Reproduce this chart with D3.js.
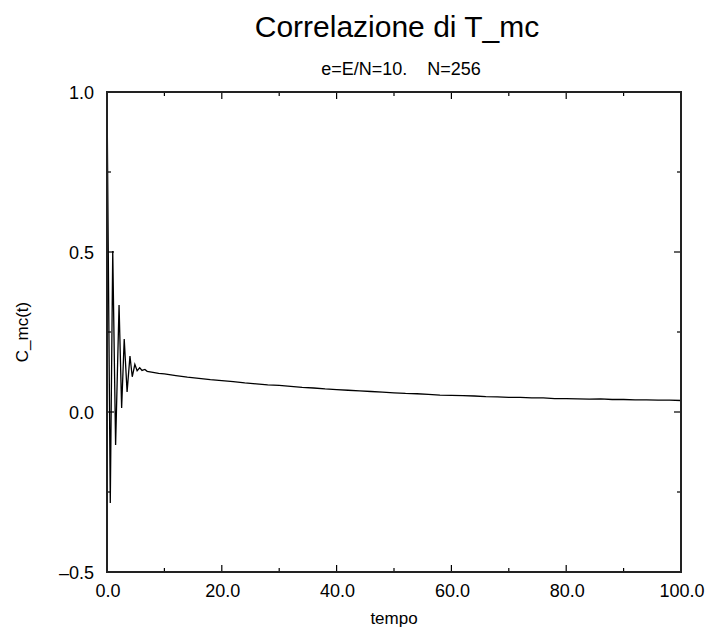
<!DOCTYPE html>
<html>
<head>
<meta charset="utf-8">
<script src="https://cdn.jsdelivr.net/npm/d3@7"></script>
<style>
  body { margin: 0; background: #fff; }
  text { font-family: "Liberation Sans", Arial, Helvetica, sans-serif; fill: #000; }
</style>
</head>
<body>
<div id="chart"></div>
<script>
// time axis (tempo) and correlation values C_mc(t)
const tempo = [0, 0.57, 1.0, 1.5, 2.1, 2.55, 3.0, 3.5, 4.0, 4.4, 4.85, 5.25, 5.7, 6.1, 6.6, 7.0,
  8, 9, 10, 12, 14, 16, 18, 20, 22, 24, 26, 28, 30, 32, 34, 36, 38, 40, 42, 44, 46, 48, 50,
  52, 54, 56, 58, 60, 62, 64, 66, 68, 70, 72, 74, 76, 78, 80, 82, 84, 86, 88, 90, 92, 94, 96, 98, 100];
const cmc = [1.0, -0.284, 0.503, -0.103, 0.334, 0.0125, 0.228, 0.063, 0.175, 0.11, 0.149, 0.129, 0.138, 0.130, 0.133, 0.127,
  0.124, 0.121, 0.119, 0.114, 0.109, 0.105, 0.101, 0.098, 0.095, 0.091, 0.088, 0.085, 0.083, 0.080, 0.077, 0.075, 0.072, 0.070, 0.068, 0.066, 0.064, 0.062, 0.060,
  0.058, 0.057, 0.055, 0.053, 0.052, 0.051, 0.050, 0.048, 0.047, 0.046, 0.046, 0.044, 0.044, 0.042, 0.042, 0.041, 0.040, 0.041, 0.039, 0.039, 0.038, 0.038, 0.037, 0.037, 0.036];

const xMajor = [0, 20, 40, 60, 80, 100];
const xMinor = [10, 30, 50, 70, 90];
const yMajor = [-0.5, 0.0, 0.5, 1.0];
const yMinor = [-0.25, 0.25, 0.75];

const titleText = "Correlazione di T_mc";
const subtitleText = "e=E/N=10.\u00a0\u00a0\u00a0\u00a0N=256";
const xLabel = "tempo";
const yLabel = "C_mc(t)";

const W = 713, H = 636;
const margin = { top: 92, right: 32, bottom: 64, left: 107 };
const width = W - margin.left - margin.right;
const height = H - margin.top - margin.bottom;

const svg = d3.select("#chart").append("svg")
  .attr("width", W)
  .attr("height", H);

const g = svg.append("g")
  .attr("transform", "translate(" + margin.left + "," + margin.top + ")");

const x = d3.scaleLinear().domain([0, 100]).range([0, width]);
const y = d3.scaleLinear().domain([-0.5, 1.0]).range([height, 0]);

const fmt = d => (d < 0 ? "\u2013" + d3.format(".1f")(-d) : d3.format(".1f")(d));

// data line
const line = d3.line()
  .x((d, i) => x(tempo[i]))
  .y(d => y(d));
g.append("path")
  .datum(cmc)
  .attr("d", line)
  .attr("fill", "none")
  .attr("stroke", "#000")
  .attr("stroke-width", 1.3)
  .attr("stroke-linejoin", "miter");

// ticks on all four sides, pointing inward
const tick = (vals, len) => {
  vals.forEach(v => {
    g.append("line").attr("x1", x(v)).attr("x2", x(v)).attr("y1", height).attr("y2", height - len);
    g.append("line").attr("x1", x(v)).attr("x2", x(v)).attr("y1", 0).attr("y2", len);
  });
};
const ytick = (vals, len) => {
  vals.forEach(v => {
    g.append("line").attr("x1", 0).attr("x2", len).attr("y1", y(v)).attr("y2", y(v));
    g.append("line").attr("x1", width).attr("x2", width - len).attr("y1", y(v)).attr("y2", y(v));
  });
};
tick(xMajor, 7); tick(xMinor, 4);
ytick(yMajor, 7); ytick(yMinor, 4);
g.selectAll("line").attr("stroke", "#000").attr("stroke-width", 1.2);

// frame
g.append("rect")
  .attr("x", 0).attr("y", 0)
  .attr("width", width).attr("height", height)
  .attr("fill", "none")
  .attr("stroke", "#222")
  .attr("stroke-width", 2);

// tick labels
g.selectAll(".xl").data(xMajor).enter().append("text")
  .attr("x", d => x(d) + 1)
  .attr("y", height + 25)
  .attr("text-anchor", "middle")
  .style("font-size", "18px")
  .text(fmt);
g.selectAll(".yl").data(yMajor).enter().append("text")
  .attr("x", -13)
  .attr("y", d => y(d) + 6.5)
  .attr("text-anchor", "end")
  .style("font-size", "18px")
  .text(fmt);

// titles
svg.append("text")
  .attr("x", 397).attr("y", 37)
  .attr("text-anchor", "middle")
  .style("font-size", "30px")
  .text(titleText);
svg.append("text")
  .attr("x", 401).attr("y", 75)
  .attr("text-anchor", "middle")
  .style("font-size", "18px")
  .text(subtitleText);
svg.append("text")
  .attr("x", margin.left + width / 2).attr("y", 624)
  .attr("text-anchor", "middle")
  .style("font-size", "17px")
  .text(xLabel);
svg.append("text")
  .attr("transform", "translate(28," + (margin.top + height / 2) + ") rotate(-90)")
  .attr("text-anchor", "middle")
  .style("font-size", "17px")
  .text(yLabel);
</script>
</body>
</html>
